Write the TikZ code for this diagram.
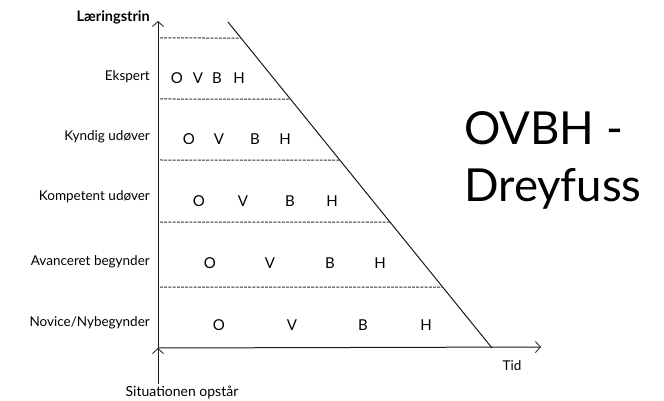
\documentclass[tikz,border=0pt]{standalone}
\usepackage{fontspec}
\setmainfont{Lato}
\usetikzlibrary{arrows.meta}
\begin{document}
\begin{tikzpicture}[x=1pt,y=-1pt,
  axis/.style={line width=1pt,black!90},
  tip/.style={-{Straight Barb[length=5pt,width=11pt,line width=0.8pt]}},
  divider/.style={line width=1pt,black!80,dash pattern=on 3pt off 1.2pt},
  rowlabel/.style={anchor=east,font=\fontsize{13.5}{15}\selectfont,inner sep=0pt},
  letter/.style={font=\fontsize{15}{16}\selectfont,inner sep=0pt},
  title/.style={font=\fontsize{45.5}{57}\selectfont,align=left,anchor=north west,inner sep=0pt}]
\useasboundingbox (0,0) rectangle (664,401);
% axes
\coordinate (orig) at (158,348);
\coordinate (ytop) at (158,21);
\coordinate (xend) at (541,347);
\coordinate (ybot) at (158,384);
\coordinate (dtop) at (228,22);
\coordinate (dbot) at (492,348);
\draw[axis,tip] (ybot) -- (orig);
\draw[axis,tip] (orig) -- (ytop);
\draw[axis,tip] (orig) -- (xend);
\draw[axis] (dtop) -- (dbot);
% dashed dividers
\foreach \y/\n in {38/a,99/b,160/c,222/d,287/e}{
  \coordinate (l\n) at (160,\y);
  \coordinate (r\n) at (intersection of dtop--dbot and l\n--{600,\y});
  \draw[divider] (l\n) -- (r\n);
}
% axis labels
\node[anchor=east,font=\fontsize{14.5}{16}\selectfont\bfseries,inner sep=0pt] (ylab) at (150,17) {Læringstrin};
\node[font=\fontsize{13.5}{15}\selectfont,inner sep=0pt] (xlab) at (512,366) {Tid};
\node[font=\fontsize{14}{15}\selectfont,inner sep=0pt] (sit) at (182,392) {Situationen opstår};
% row labels
\node[rowlabel] (r1) at (150,77) {Ekspert};
\node[rowlabel] (r2) at (150,137) {Kyndig udøver};
\node[rowlabel] (r3) at (150,197) {Kompetent udøver};
\node[rowlabel] (r4) at (150,262) {Avanceret begynder};
\node[rowlabel] (r5) at (150,323) {Novice/Nybegynder};
% letters
\foreach \row/\y/\xo/\xv/\xb/\xh in {1/78/177/198/217/239, 2/139/189/219/255/285, 3/201/199/243/290/332, 4/263/210/270/330/380, 5/325/219/292/363/426}{
  \node[letter] (o\row) at (\xo,\y) {O};
  \node[letter] (v\row) at (\xv,\y) {V};
  \node[letter] (b\row) at (\xb,\y) {B};
  \node[letter] (h\row) at (\xh,\y) {H};
}
% title
\node[title] (ttl) at (464,111) {OVBH -\\Dreyfuss};
\end{tikzpicture}
\end{document}
